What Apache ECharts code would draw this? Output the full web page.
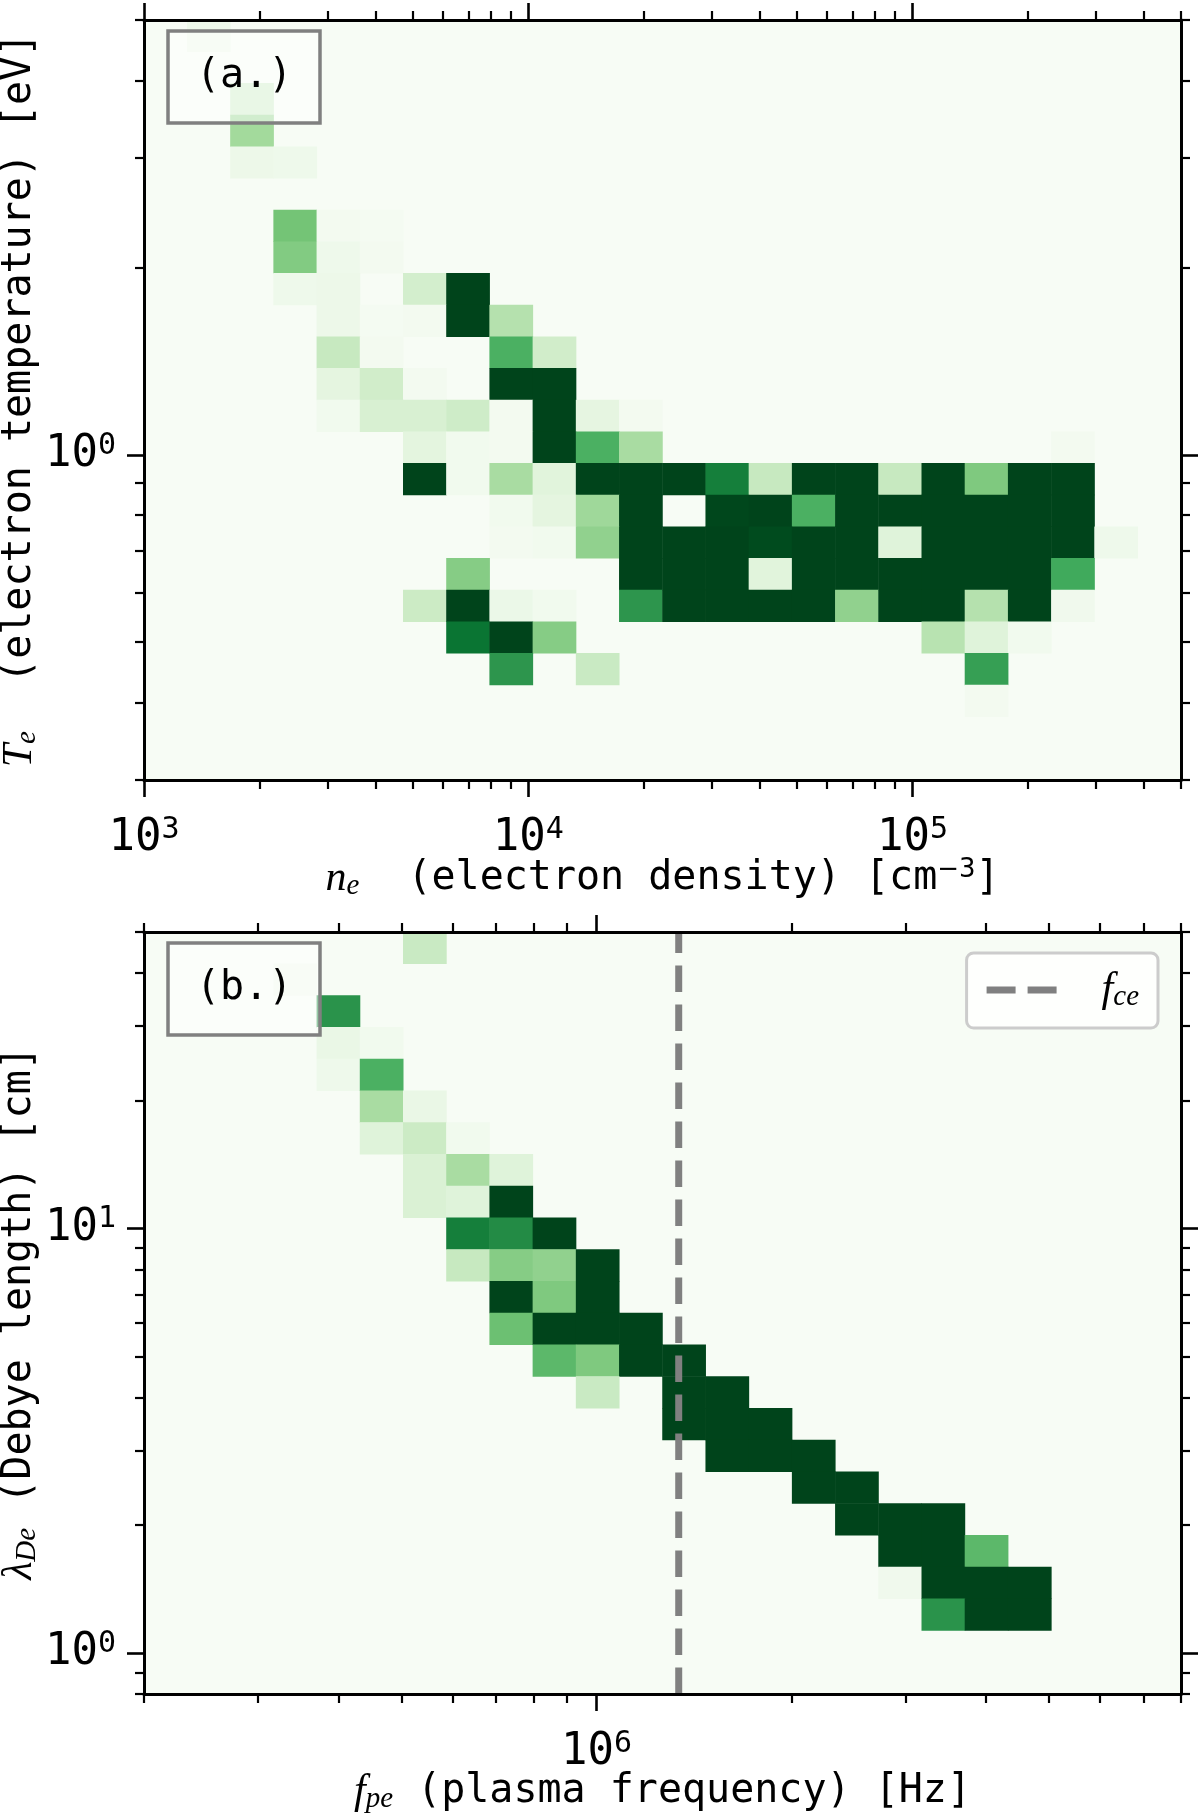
<!DOCTYPE html>
<html>
<head>
<meta charset="utf-8">
<script src="https://cdn.jsdelivr.net/npm/echarts@6.0.0/dist/echarts.min.js"></script>
<style>
  html, body { margin: 0; padding: 0; background: #fff; }
  #chart { width: 1200px; height: 1814px; }
</style>
</head>
<body>
<div id="chart"></div>
<script>
// 24 log-spaced bins on every axis of both histograms
var binIndex = ['0', '1', '2', '3', '4', '5', '6', '7', '8', '9', '10', '11',
                '12', '13', '14', '15', '16', '17', '18', '19', '20', '21', '22', '23'];

// axis ranges
var neRange = [1e3, 5e5];      // electron density [cm^-3]
var teRange = [0.3, 5];        // electron temperature [eV]
var fpeRange = [2e5, 8e6];     // plasma frequency [Hz]
var ldeRange = [0.8, 50];      // Debye length [cm]

// tick values
var neMajor = [1e3, 1e4, 1e5];
var neMinor = [2e3, 3e3, 4e3, 5e3, 6e3, 7e3, 8e3, 9e3, 2e4, 3e4, 4e4, 5e4, 6e4, 7e4, 8e4, 9e4, 2e5, 3e5, 4e5, 5e5];
var teMajor = [1];
var teMinor = [0.3, 0.4, 0.5, 0.6, 0.7, 0.8, 0.9, 2, 3, 4, 5];
var fpeMajor = [1e6];
var fpeMinor = [2e5, 3e5, 4e5, 5e5, 6e5, 7e5, 8e5, 9e5, 2e6, 3e6, 4e6, 5e6, 6e6, 7e6, 8e6];
var ldeMajor = [1, 10];
var ldeMinor = [0.8, 0.9, 2, 3, 4, 5, 6, 7, 8, 9, 20, 30, 40, 50];

// electron cyclotron frequency
var fce = 1.34e6;

// (a.) counts: [ne bin, Te bin (0 = lowest), count]; colour saturates at 10
var teCells = [
  [1, 23, 0.6],
  [2, 21, 2.0],
  [2, 20, 3.7],
  [2, 19, 0.7], [3, 19, 0.6],
  [3, 17, 5.0], [4, 17, 0.3], [5, 17, 0.2],
  [3, 16, 4.6], [4, 16, 0.6], [5, 16, 0.3],
  [3, 15, 0.6], [4, 15, 0.7], [6, 15, 2.0], [7, 15, 10],
  [4, 14, 0.7], [5, 14, 0.2], [6, 14, 0.3], [7, 14, 10], [8, 14, 3.1],
  [4, 13, 2.5], [5, 13, 0.3], [8, 13, 6.0], [9, 13, 2.1],
  [4, 12, 1.25], [5, 12, 2.1], [6, 12, 0.3], [8, 12, 10], [9, 12, 10],
  [4, 11, 0.4], [5, 11, 1.8], [6, 11, 1.8], [7, 11, 2.2], [8, 11, 0.3], [9, 11, 10], [10, 11, 1.2], [11, 11, 0.3],
  [6, 10, 1.3], [7, 10, 0.4], [8, 10, 0.3], [9, 10, 10], [10, 10, 6.0], [11, 10, 3.5], [21, 10, 0.3],
  [6, 9, 10], [7, 9, 0.4], [8, 9, 3.5], [9, 9, 1.4], [10, 9, 10], [11, 9, 10], [12, 9, 10], [13, 9, 8.0],
  [14, 9, 2.5], [15, 9, 10], [16, 9, 10], [17, 9, 2.5], [18, 9, 10], [19, 9, 4.7], [20, 9, 10], [21, 9, 10],
  [8, 8, 0.4], [9, 8, 1.25], [10, 8, 3.8], [11, 8, 10], [13, 8, 9.9], [14, 8, 10], [15, 8, 6.0],
  [16, 8, 10], [17, 8, 10], [18, 8, 10], [19, 8, 10], [20, 8, 10], [21, 8, 10],
  [8, 7, 0.3], [9, 7, 0.4], [10, 7, 4.2], [11, 7, 10], [12, 7, 10], [13, 7, 10], [14, 7, 9.8], [15, 7, 10],
  [16, 7, 10], [17, 7, 1.5], [18, 7, 10], [19, 7, 10], [20, 7, 10], [21, 7, 10], [22, 7, 0.6],
  [7, 6, 4.5], [11, 6, 10], [12, 6, 10], [13, 6, 10], [14, 6, 1.4], [15, 6, 10], [16, 6, 10],
  [17, 6, 10], [18, 6, 10], [19, 6, 10], [20, 6, 10], [21, 6, 6.3],
  [6, 5, 2.3], [7, 5, 10], [8, 5, 0.8], [9, 5, 0.4], [11, 5, 7.1], [12, 5, 10], [13, 5, 10], [14, 5, 10],
  [15, 5, 10], [16, 5, 4.2], [17, 5, 10], [18, 5, 10], [19, 5, 3.1], [20, 5, 10], [21, 5, 0.5],
  [7, 4, 8.4], [8, 4, 10], [9, 4, 4.5], [18, 4, 3.0], [19, 4, 1.5], [20, 4, 0.4],
  [8, 3, 7.1], [10, 3, 2.4], [19, 3, 6.7],
  [19, 2, 0.3]
];

// (b.) counts: [fpe bin, Debye length bin (0 = lowest), count]
var ldeCells = [
  [6, 23, 2.4],
  [3, 22, 0.5],
  [4, 21, 7.2],
  [4, 20, 0.9], [5, 20, 0.4],
  [4, 19, 0.6], [5, 19, 6.0],
  [5, 18, 3.5], [6, 18, 0.9],
  [5, 17, 1.5], [6, 17, 2.3], [7, 17, 0.4],
  [6, 16, 1.7], [7, 16, 3.5], [8, 16, 1.5],
  [6, 15, 1.7], [7, 15, 1.5], [8, 15, 10],
  [7, 14, 8.0], [8, 14, 7.5], [9, 14, 10],
  [7, 13, 2.5], [8, 13, 4.5], [9, 13, 4.2], [10, 13, 10],
  [8, 12, 10], [9, 12, 4.7], [10, 12, 10],
  [8, 11, 5.2], [9, 11, 10], [10, 11, 10], [11, 11, 10],
  [9, 10, 5.6], [10, 10, 4.7], [11, 10, 10], [12, 10, 10],
  [10, 9, 2.4], [12, 9, 10], [13, 9, 10],
  [12, 8, 10], [13, 8, 10], [14, 8, 10],
  [13, 7, 10], [14, 7, 10], [15, 7, 10],
  [15, 6, 10], [16, 6, 10],
  [16, 5, 10], [17, 5, 10], [18, 5, 10],
  [17, 4, 10], [18, 4, 10], [19, 4, 5.6],
  [17, 3, 0.5], [18, 3, 10], [19, 3, 10], [20, 3, 10],
  [18, 2, 7.2], [19, 2, 10], [20, 2, 10]
];

// matplotlib "Greens"
var greens = ['#f7fcf5', '#e5f5e0', '#c7e9c0', '#a1d99b', '#74c476', '#41ab5d', '#238b45', '#006d2c', '#00441b'];

var mono = 'DejaVu Sans Mono';
var serif = 'Liberation Serif';
function lg(v) { return Math.log10(v); }

var tickRich = {
  b: { fontFamily: mono, fontSize: 44, lineHeight: 48, color: '#000' },
  s: { fontFamily: mono, fontSize: 30, lineHeight: 21, verticalAlign: 'top', color: '#000' }
};
var nameRich = {
  m: { fontFamily: serif, fontStyle: 'italic', fontSize: 42, lineHeight: 44, color: '#000' },
  sub: { fontFamily: serif, fontStyle: 'italic', fontSize: 29, lineHeight: 19, verticalAlign: 'bottom', color: '#000' },
  t: { fontFamily: mono, fontSize: 40, lineHeight: 44, color: '#000' },
  sup: { fontFamily: 'DejaVu Sans', fontSize: 26, lineHeight: 19, verticalAlign: 'top', color: '#000' }
};

function powLabel(v) {
  return '{b|10}{s|' + Math.round(v) + '}';
}

// one axis for the major ticks (with spine) and one for the minor ticks
function tickAxes(grid, pos, range, major, minor, named) {
  var vertical = pos === 'left' || pos === 'right';
  var majorAxis = {
    gridIndex: grid, type: 'value', position: pos,
    min: lg(range[0]), max: lg(range[1]),
    silent: true, z: 10,
    splitLine: { show: false },
    axisLine: { show: true, onZero: false, lineStyle: { color: '#000', width: 3 } },
    axisTick: { show: true, inside: false, length: 17, customValues: major.map(lg),
                lineStyle: { color: '#000', width: 2.6 } },
    axisLabel: { show: false }
  };
  var minorAxis = {
    gridIndex: grid, type: 'value', position: pos,
    min: lg(range[0]), max: lg(range[1]),
    silent: true, z: 10,
    splitLine: { show: false },
    axisLine: { show: false, onZero: false },
    axisTick: { show: true, inside: false, length: 9, customValues: minor.map(lg),
                lineStyle: { color: '#000', width: 2.2 } },
    axisLabel: { show: false }
  };
  if (named) {
    majorAxis.axisLabel = {
      show: true, customValues: major.map(lg), formatter: powLabel,
      rich: tickRich, margin: vertical ? 28 : 35
    };
    majorAxis.name = named.text;
    majorAxis.nameLocation = 'middle';
    majorAxis.nameGap = named.gap;
    majorAxis.nameRotate = vertical ? 90 : 0;
    majorAxis.nameMoveOverlap = false;
    majorAxis.nameTextStyle = { rich: nameRich };
  }
  return [majorAxis, minorAxis];
}

function binAxis(grid) {
  return { gridIndex: grid, type: 'category', data: binIndex, show: false, boundaryGap: true };
}

var xAxes = [].concat(
  [binAxis(0)],
  tickAxes(0, 'bottom', neRange, neMajor, neMinor,
    { text: '{m|n}{sub|e}{t|  (electron density) [cm}{sup|\u22123}{t|]}', gap: 77 }),
  tickAxes(0, 'top', neRange, neMajor, neMinor),
  [binAxis(1)],
  tickAxes(1, 'bottom', fpeRange, fpeMajor, fpeMinor,
    { text: '{m|f}{sub|pe}{t| (plasma frequency) [Hz]}', gap: 76 }),
  tickAxes(1, 'top', fpeRange, fpeMajor, fpeMinor)
);
var yAxes = [].concat(
  [binAxis(0)],
  tickAxes(0, 'left', teRange, teMajor, teMinor,
    { text: '{m|T}{sub|e}{t|  (electron temperature) [eV]}', gap: 102 }),
  tickAxes(0, 'right', teRange, teMajor, teMinor),
  [binAxis(1)],
  tickAxes(1, 'left', ldeRange, ldeMajor, ldeMinor,
    { text: '{m|\u03bb}{sub|De}{t| (Debye length) [cm]}', gap: 102 }),
  tickAxes(1, 'right', ldeRange, ldeMajor, ldeMinor)
);

function panelTag(text, top) {
  return {
    text: text, left: 168, top: top,
    padding: [24, 28, 24, 28],
    borderColor: '#808080', borderWidth: 3.5,
    backgroundColor: 'rgba(255,255,255,0.5)',
    textStyle: { fontFamily: mono, fontSize: 40, fontWeight: 'normal', lineHeight: 44, color: '#000' },
    z: 12
  };
}

var chart = echarts.init(document.getElementById('chart'), null, { renderer: 'canvas' });

var option = {
  animation: false,
  backgroundColor: '#fff',
  title: [panelTag('(a.)', 31), panelTag('(b.)', 943)],
  grid: [
    { left: 144, top: 20, width: 1037, height: 760, show: true, backgroundColor: '#f7fcf5',
      borderWidth: 0, containLabel: false, outerBoundsMode: 'none' },
    { left: 144, top: 932, width: 1037, height: 762, show: true, backgroundColor: '#f7fcf5',
      borderWidth: 0, containLabel: false, outerBoundsMode: 'none' }
  ],
  xAxis: xAxes,
  yAxis: yAxes,
  visualMap: {
    show: false, type: 'continuous', min: 0, max: 10, dimension: 2,
    seriesIndex: [0, 1], inRange: { color: greens }
  },
  legend: {
    data: ['fce'], top: 953, right: 42,
    backgroundColor: 'rgba(255,255,255,0.8)',
    borderColor: '#cccccc', borderWidth: 3, borderRadius: 7,
    padding: [16, 19, 16, 20],
    itemWidth: 70, itemHeight: 7,
    icon: 'path://M0,0H29V7H0Z M41,0H70V7H41Z',
    itemStyle: { color: '#808080' },
    selectedMode: false,
    formatter: function () { return '{f|f}{s|ce}'; },
    textStyle: {
      rich: {
        f: { fontFamily: serif, fontStyle: 'italic', fontSize: 42, lineHeight: 44, color: '#000', padding: [0, 0, 0, 40] },
        s: { fontFamily: serif, fontStyle: 'italic', fontSize: 29, lineHeight: 19, verticalAlign: 'bottom', color: '#000' }
      }
    },
    z: 12
  },
  series: [
    {
      type: 'heatmap', xAxisIndex: 0, yAxisIndex: 0, data: teCells,
      itemStyle: { borderWidth: 0 }, emphasis: { disabled: true }, z: 2
    },
    {
      type: 'heatmap', xAxisIndex: 5, yAxisIndex: 5, data: ldeCells,
      itemStyle: { borderWidth: 0 }, emphasis: { disabled: true }, z: 2
    },
    {
      name: 'fce', type: 'line', xAxisIndex: 6, yAxisIndex: 6,
      data: [[lg(fce), lg(ldeRange[0])], [lg(fce), lg(ldeRange[1])]],
      symbol: 'none', silent: true, z: 5,
      itemStyle: { color: '#808080' },
      lineStyle: { color: '#808080', width: 7, type: [26.5, 12.5], cap: 'butt' }
    }
  ]
};

chart.setOption(option);
</script>
</body>
</html>
